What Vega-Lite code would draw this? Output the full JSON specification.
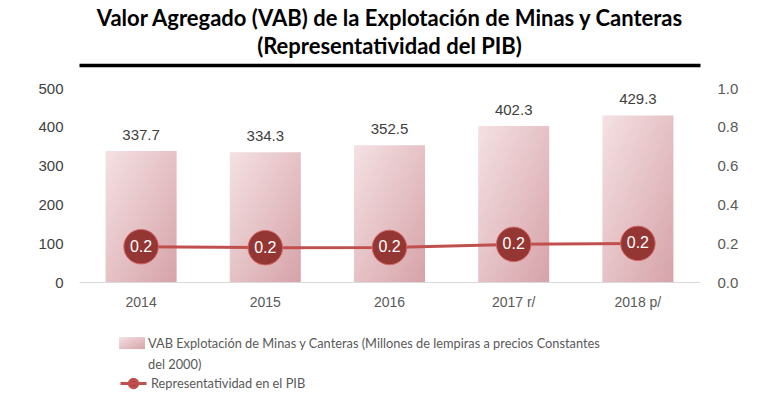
{
  "$schema": "https://vega.github.io/schema/vega-lite/v6.json",
  "width": 621,
  "height": 194,
  "autosize": {"type": "none"},
  "padding": {"left": 79, "top": 88, "right": 70, "bottom": 135},
  "background": "white",
  "title": {
    "text": ["Valor Agregado (VAB) de la Explotación de Minas y Canteras", "(Representatividad del PIB)"],
    "font": "Lato",
    "fontSize": 22,
    "fontWeight": "bold",
    "color": "#000000",
    "lineHeight": 28,
    "anchor": "middle",
    "baseline": "alphabetic",
    "frame": "group",
    "offset": -11
  },
  "data": {
    "values": [
      {"year": "2014", "vab": 337.7, "pib": 0.182, "s1": "VAB Explotación de Minas y Canteras (Millones de lempiras a precios Constantes|del 2000)", "s2": "Representatividad en el PIB"},
      {"year": "2015", "vab": 334.3, "pib": 0.177, "s1": "VAB Explotación de Minas y Canteras (Millones de lempiras a precios Constantes|del 2000)", "s2": "Representatividad en el PIB"},
      {"year": "2016", "vab": 352.5, "pib": 0.178, "s1": "VAB Explotación de Minas y Canteras (Millones de lempiras a precios Constantes|del 2000)", "s2": "Representatividad en el PIB"},
      {"year": "2017 r/", "vab": 402.3, "pib": 0.194, "s1": "VAB Explotación de Minas y Canteras (Millones de lempiras a precios Constantes|del 2000)", "s2": "Representatividad en el PIB"},
      {"year": "2018 p/", "vab": 429.3, "pib": 0.199, "s1": "VAB Explotación de Minas y Canteras (Millones de lempiras a precios Constantes|del 2000)", "s2": "Representatividad en el PIB"}
    ]
  },
  "layer": [
    {
      "layer": [
        {
          "mark": {"type": "bar", "fill": {"gradient": "linear", "x1": 0, "y1": 0, "x2": 1, "y2": 1, "stops": [{"offset": 0, "color": "#f4e1e3"}, {"offset": 1, "color": "#d6a3a9"}]}},
          "encoding": {
            "x": {
              "field": "year", "type": "nominal", "sort": null, "title": null,
              "scale": {"paddingInner": 0.428, "paddingOuter": 0.214},
              "axis": {"orient": "bottom", "labelAngle": 0, "ticks": false, "domainColor": "#d9d9d9", "domainWidth": 1, "labelPadding": 13, "labelFont": "Liberation Sans", "labelFontSize": 14, "labelColor": "#595959", "grid": false}
            },
            "y": {
              "field": "vab", "type": "quantitative", "title": null,
              "scale": {"domain": [0, 500], "nice": false},
              "axis": {"values": [0, 100, 200, 300, 400, 500], "tickCount": 6, "orient": "left", "domain": false, "ticks": false, "grid": false, "labelOverlap": false, "labelFlush": false, "labelPadding": 16, "labelFont": "Liberation Sans", "labelFontSize": 15, "labelColor": "#404040"}
            },
            "opacity": {
              "field": "s1", "type": "nominal", "title": null,
              "scale": {"range": [1]},
              "legend": {
                "orient": "none", "legendX": 40, "legendY": 247,
                "symbolType": "M-1,-0.84H1V0.08H-1Z", "symbolSize": 676, "symbolStrokeWidth": 0,
                "symbolFillColor": "#e3bcc0",
                "labelExpr": "split(datum.label, '|')",
                "labelFont": "Lato", "labelFontSize": 12.8, "labelColor": "#595959", "labelLimit": 700, "labelOffset": 3, "labelBaseline": "alphabetic"
              }
            }
          }
        },
        {
          "mark": {"type": "text", "dy": -16, "font": "Liberation Sans", "fontSize": 15, "color": "#404040"},
          "encoding": {
            "x": {"field": "year", "type": "nominal", "sort": null, "title": null,
              "axis": {"orient": "bottom", "labelAngle": 0, "ticks": false, "domainColor": "#d9d9d9", "domainWidth": 1, "labelPadding": 13, "labelFont": "Liberation Sans", "labelFontSize": 14, "labelColor": "#595959", "grid": false}},
            "y": {"field": "vab", "type": "quantitative", "title": null, "scale": {"domain": [0, 500], "nice": false},
              "axis": {"values": [0, 100, 200, 300, 400, 500], "tickCount": 6, "orient": "left", "domain": false, "ticks": false, "grid": false, "labelOverlap": false, "labelFlush": false, "labelPadding": 16, "labelFont": "Liberation Sans", "labelFontSize": 15, "labelColor": "#404040"}},
            "text": {"field": "vab", "type": "quantitative", "format": ".1f"}
          }
        }
      ]
    },
    {
      "layer": [
        {
          "mark": {"type": "line", "strokeWidth": 3},
          "encoding": {
            "x": {
              "field": "year", "type": "nominal", "sort": null, "title": null,
              "axis": {"orient": "top", "offset": 23, "labels": false, "ticks": false, "grid": false, "domainColor": "#000000", "domainWidth": 3.5}
            },
            "y": {
              "field": "pib", "type": "quantitative", "title": null,
              "scale": {"domain": [0, 1], "nice": false},
              "axis": {"orient": "right", "values": [0, 0.2, 0.4, 0.6, 0.8, 1.0], "tickCount": 6, "format": ".1f", "domain": false, "ticks": false, "grid": false, "labelOverlap": false, "labelFlush": false, "labelPadding": 17, "labelFont": "Liberation Sans", "labelFontSize": 15, "labelColor": "#595959"}
            },
            "stroke": {
              "field": "s2", "type": "nominal", "title": null,
              "scale": {"range": ["#c0504d"]},
              "legend": {
                "orient": "none", "legendX": 40, "legendY": 281,
                "symbolType": "M-1,0H1M-0.32,0A0.32,0.32,0,1,1,0.32,0A0.32,0.32,0,1,1,-0.32,0Z", "symbolSize": 676,
                "symbolStrokeWidth": 3, "symbolFillColor": "#a8393a",
                "labelFont": "Lato", "labelFontSize": 12.8, "labelColor": "#595959", "labelLimit": 700, "labelOffset": 3
              }
            }
          }
        },
        {
          "mark": {"type": "point", "shape": "circle", "filled": true, "size": 1195, "fill": "#943634", "stroke": "#d46a6a", "strokeWidth": 1, "opacity": 1},
          "encoding": {
            "x": {"field": "year", "type": "nominal", "sort": null, "title": null,
              "axis": {"orient": "top", "offset": 23, "labels": false, "ticks": false, "grid": false, "domainColor": "#000000", "domainWidth": 3.5}},
            "y": {"field": "pib", "type": "quantitative", "title": null, "scale": {"domain": [0, 1], "nice": false},
              "axis": {"orient": "right", "values": [0, 0.2, 0.4, 0.6, 0.8, 1.0], "tickCount": 6, "format": ".1f", "domain": false, "ticks": false, "grid": false, "labelOverlap": false, "labelFlush": false, "labelPadding": 17, "labelFont": "Liberation Sans", "labelFontSize": 15, "labelColor": "#595959"}}
          }
        },
        {
          "mark": {"type": "text", "font": "Liberation Sans", "fontSize": 16, "color": "#ffffff", "baseline": "middle"},
          "encoding": {
            "x": {"field": "year", "type": "nominal", "sort": null, "title": null,
              "axis": {"orient": "top", "offset": 23, "labels": false, "ticks": false, "grid": false, "domainColor": "#000000", "domainWidth": 3.5}},
            "y": {"field": "pib", "type": "quantitative", "title": null, "scale": {"domain": [0, 1], "nice": false},
              "axis": {"orient": "right", "values": [0, 0.2, 0.4, 0.6, 0.8, 1.0], "tickCount": 6, "format": ".1f", "domain": false, "ticks": false, "grid": false, "labelOverlap": false, "labelFlush": false, "labelPadding": 17, "labelFont": "Liberation Sans", "labelFontSize": 15, "labelColor": "#595959"}},
            "text": {"field": "pib", "type": "quantitative", "format": ".1f"}
          }
        }
      ]
    }
  ],
  "resolve": {"scale": {"y": "independent"}, "axis": {"x": "independent"}},
  "config": {"view": {"stroke": null}, "style": {"guide-label": {"lineHeight": 21}}}
}
